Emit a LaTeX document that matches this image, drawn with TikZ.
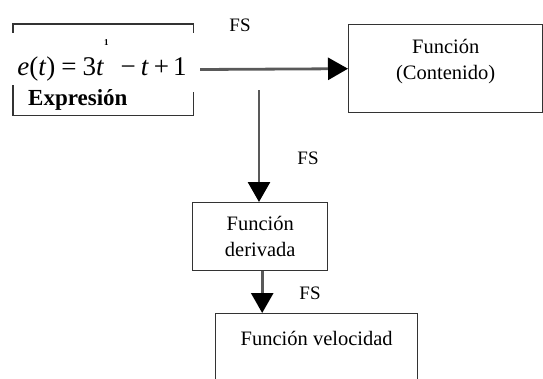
\documentclass[tikz,border=0pt]{standalone}
\usepackage{fontspec}
\setmainfont{Liberation Serif}
\usetikzlibrary{arrows.meta,positioning}

\begin{document}
\begin{tikzpicture}[
    x=1pt, y=-1pt,
    box/.style={rectangle, draw=black!80, line width=1.4pt, inner sep=0pt},
    txt/.style={inner sep=0pt, align=center, font=\fontsize{20.5}{26}\selectfont},
    fs/.style={inner sep=0pt, font=\fontsize{19}{22}\selectfont},
    flow/.style={draw=black!65, line width=2.8pt, -{Triangle[length=20pt, width=22pt, black]}}
]
    \useasboundingbox (0,0) rectangle (543,378);

    % Expression
    \node[rectangle, minimum width=180pt, minimum height=91pt, inner sep=0pt] (expr) at (103,69.5) {};
    \draw[black!80, line width=1.4pt] ([yshift=-9pt]expr.north west) -- (expr.north west) -- (expr.north east) -- ([yshift=-9pt]expr.north east);
    \draw[black!80, line width=1.4pt] ([yshift=30pt]expr.south west) -- (expr.south west) -- (expr.south east) -- ([yshift=23pt]expr.south east);
    \node[anchor=base, inner sep=0pt, font=\fontsize{27}{30}\selectfont] (eq) at (102,75)
        {\textit{e}(\textit{t})\hspace{6pt}=\hspace{6pt}3\textit{t}\raisebox{30pt}{\fontsize{9}{9}\selectfont\bfseries 1}\hspace{12pt}−\hspace{5pt}\textit{t}\hspace{5pt}+\hspace{4pt}1};
    \node[anchor=base west, inner sep=0pt, font=\fontsize{23}{26}\selectfont\bfseries] (exprlbl) at (28,105) {Expresión};

    % Contenido
    \node[box, minimum width=194pt, minimum height=88pt, anchor=north west] (fun) at (348,24) {};
    \node[txt, below=15pt of fun.north] (funtxt) {Función\\(Contenido)};

    % Derivada y velocidad
    \node[box, minimum width=135pt, minimum height=68pt, anchor=north west] (der) at (192,202) {};
    \node[txt] (dertxt) at (der.center) {Función\\derivada};
    \node[box, minimum width=202pt, minimum height=100pt, anchor=north west] (vel) at (215,313) {};
    \node[txt, below=18pt of vel.north] (veltxt) {Función velocidad};

    \coordinate (split) at (259,90);

    \draw[flow] ([xshift=7pt]expr.east) -- (fun.west);
    \draw[flow] (split) -- (split |- der.north);
    \draw[flow] ([xshift=2pt]der.south) -- ([xshift=2pt]der.south |- vel.north);

    \node[fs] (fs1) at (240,25) {FS};
    \node[fs] (fs2) at (308,158) {FS};
    \node[fs] (fs3) at (310,293) {FS};
\end{tikzpicture}
\end{document}
